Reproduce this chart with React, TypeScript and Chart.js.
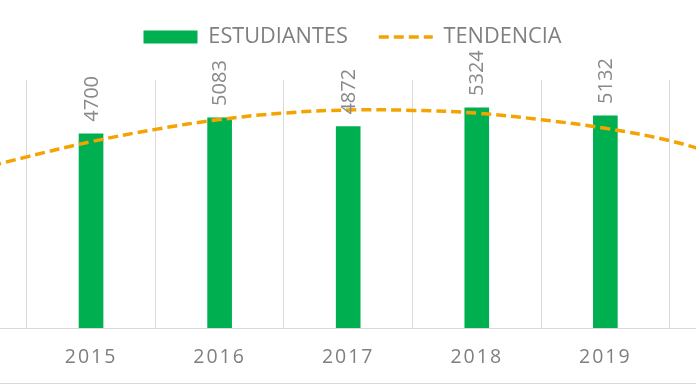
import React, { useEffect, useRef } from "react";
import { Chart, registerables } from "chart.js";

Chart.register(...registerables);

// ---- data ----
const YEARS = [2015, 2016, 2017, 2018, 2019];
const STUDENTS = [4700, 5083, 4872, 5324, 5132];
const TREND_YEARS = [2014, 2014.5, 2015, 2015.5, 2016, 2016.5, 2017, 2017.5, 2018, 2018.5, 2019, 2019.5, 2020];
const TREND_VALUES = [3740, 4140, 4507, 4805, 5043, 5200, 5274, 5265, 5198, 5040, 4831, 4531, 4080];
const SERIES_NAMES = ["ESTUDIANTES", "TENDENCIA"];
const X_MIN = 2014.292;
const X_MAX = 2019.705;
const Y_MIN = 0;
const Y_MAX = 6000;

const GREEN = "#00b050";
const ORANGE = "#f5a300";
const GRID = "#d9d9d9";
const TEXT = "#7f7f7f";
const FONT = '"Open Sans"';

const legendShift = {
  id: "legendShift",
  afterLayout(chart: any) {
    if (chart.legend) {
      chart.legend.left += 4.5;
      chart.legend.right += 4.5;
    }
  },
};

const valueLabels = {
  id: "valueLabels",
  afterDatasetsDraw(chart: any) {
    const ctx = chart.ctx;
    const meta = chart.getDatasetMeta(0);
    ctx.save();
    ctx.font = `20px ${FONT}`;
    ctx.fillStyle = "#8a8a8a";
    ctx.textAlign = "left";
    ctx.textBaseline = "middle";
    meta.data.forEach((bar: any, i: number) => {
      ctx.save();
      ctx.translate(bar.x + 1, bar.y - 12);
      ctx.rotate(-Math.PI / 2);
      ctx.fillText(String(STUDENTS[i]), 0, 0);
      ctx.restore();
    });
    ctx.restore();
    // x-axis tick labels (drawn after datasets) use wider letter spacing
    (ctx as any).letterSpacing = "2px";
  },
  afterDraw(chart: any) {
    (chart.ctx as any).letterSpacing = "0px";
  },
};

export default function App() {
  const ref = useRef<HTMLCanvasElement | null>(null);

  useEffect(() => {
    document.body.style.margin = "0";
    document.body.style.overflow = "hidden";
    const canvas = ref.current;
    if (!canvas) return;
    Chart.defaults.font.family = FONT;

    const chart = new Chart(canvas, {
      data: {
        datasets: [
          {
            type: "bar",
            label: SERIES_NAMES[0],
            data: YEARS.map((y, i) => ({ x: y, y: STUDENTS[i] })),
            backgroundColor: GREEN,
            borderWidth: 0,
            barThickness: 24,
            order: 1,
          },
          {
            type: "line",
            label: SERIES_NAMES[1],
            data: TREND_YEARS.map((y, i) => ({ x: y, y: TREND_VALUES[i] })),
            borderColor: ORANGE,
            borderWidth: 3.5,
            borderDash: [10, 5],
            pointRadius: 0,
            tension: 0.4,
            fill: false,
            order: 0,
          },
        ] as any,
      },
      options: {
        animation: false,
        responsive: false,
        events: [],
        layout: { padding: { top: -4.85, bottom: -3, left: 0, right: 0 } },
        plugins: {
          tooltip: { enabled: false },
          legend: {
            position: "top",
            labels: {
              usePointStyle: true,
              pointStyleWidth: 54,
              boxHeight: 13,
              padding: 31,
              color: TEXT,
              font: { family: FONT, size: 21.7 },
              generateLabels: () => [
                {
                  text: SERIES_NAMES[0],
                  fillStyle: GREEN,
                  strokeStyle: GREEN,
                  lineWidth: 0,
                  pointStyle: "rect",
                  hidden: false,
                  datasetIndex: 0,
                  fontColor: TEXT,
                },
                {
                  text: SERIES_NAMES[1],
                  fillStyle: "rgba(0,0,0,0)",
                  strokeStyle: ORANGE,
                  lineWidth: 3.5,
                  lineDash: [10, 5],
                  pointStyle: "line",
                  hidden: false,
                  datasetIndex: 1,
                  fontColor: TEXT,
                },
              ],
            },
          },
        },
        scales: {
          x: {
            type: "linear",
            position: "bottom",
            offset: false,
            min: X_MIN,
            max: X_MAX,
            afterBuildTicks: (scale: any) => {
              scale.ticks = YEARS.map((v) => ({ value: v }));
            },
            grid: { display: false, drawTicks: false, offset: false },
            border: { display: true, color: GRID, width: 1 },
            ticks: {
              z: 1,
              padding: 17.3,
              color: TEXT,
              font: { family: FONT, size: 19.5 },
              maxRotation: 0,
              autoSkip: false,
              callback: (v: any) => String(v),
            },
          },
          xg: {
            type: "linear",
            position: "top",
            offset: false,
            min: X_MIN,
            max: X_MAX,
            afterBuildTicks: (scale: any) => {
              scale.ticks = YEARS.map((v) => ({ value: v }));
            },
            afterFit: (scale: any) => {
              scale.height = 22.15;
            },
            grid: { display: true, offset: true, color: GRID, lineWidth: 1, drawTicks: false },
            border: { display: false },
            ticks: { display: false },
          },
          y: {
            display: false,
            min: Y_MIN,
            max: Y_MAX,
          },
        } as any,
      },
      plugins: [legendShift, valueLabels],
    } as any);

    return () => chart.destroy();
  }, []);

  return (
    <div style={{ width: 696, height: 383, borderBottom: `1px solid ${GRID}`, overflow: "hidden" }}>
      <canvas ref={ref} width={696} height={383} style={{ display: "block" }} />
    </div>
  );
}
